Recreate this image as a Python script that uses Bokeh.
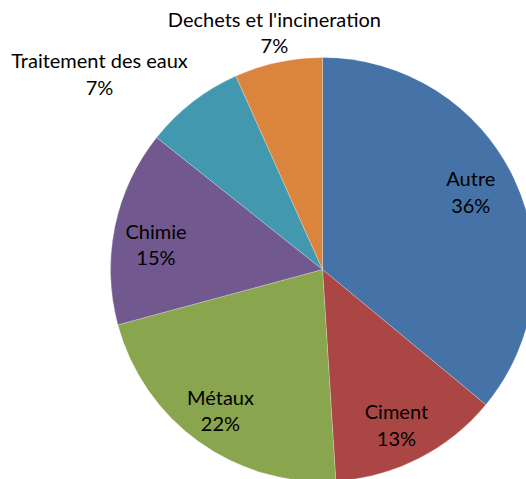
import math
from bokeh.plotting import figure
from bokeh.models import Range1d, ColumnDataSource
from bokeh.core.properties import value
from bokeh.embed import file_html
from bokeh.resources import INLINE

# ---- data ----
categories = ["Autre", "Ciment", "Métaux", "Chimie", "Traitement des eaux", "Dechets et l'incineration"]
shares = [36.0, 13.0, 21.8, 14.9, 7.6, 6.7]
pct_labels = ["36%", "13%", "22%", "15%", "7%", "7%"]

# ---- style ----
colors = ["#4572A7", "#AA4643", "#89A54E", "#71588F", "#4198AF", "#DB843D"]
label_r = [0.79, 0.81, 0.82, 0.795, 1.40, 1.142]     # label distance / radius
label_dtheta = [-2.5, 1.5, 0.3, -2.9, -10.9, 0.6]    # degrees shift from mid angle
W, H = 526, 479
CX, CY = 322, 269
R = 212

total = sum(shares)
starts, ends, lx, ly, ltxt = [], [], [], [], []
cum = 0.0
for i, v in enumerate(shares):
    a0 = cum / total * 2 * math.pi
    cum += v
    a1 = cum / total * 2 * math.pi
    starts.append(math.pi / 2 - a0)
    ends.append(math.pi / 2 - a1)
    mid = (a0 + a1) / 2 + math.radians(label_dtheta[i])
    lx.append(R * label_r[i] * math.sin(mid))
    ly.append(R * label_r[i] * math.cos(mid))
    ltxt.append(categories[i] + "\n" + pct_labels[i])

src = ColumnDataSource(dict(start=starts, end=ends, color=colors, cat=categories))
lsrc = ColumnDataSource(dict(x=lx, y=ly, text=ltxt))

p = figure(width=W, height=H, output_backend="svg", toolbar_location=None,
           x_range=Range1d(-CX, W - CX), y_range=Range1d(CY - H, CY),
           x_axis_location=None, y_axis_location=None, min_border=0)
p.grid.visible = False
p.outline_line_color = None
p.background_fill_color = "white"

p.wedge(x=0, y=0, radius=R, start_angle="start", end_angle="end", direction="clock",
        fill_color="color", line_color="white", line_width=0.4, line_alpha=0.6, source=src)

p.text(x="x", y="y", text="text", source=lsrc, text_align="center", text_baseline="middle",
       text_font=value("Lato"), text_font_size="20px", text_line_height=1.1, text_color="black")

open("out.html", "w").write(file_html(p, INLINE))
